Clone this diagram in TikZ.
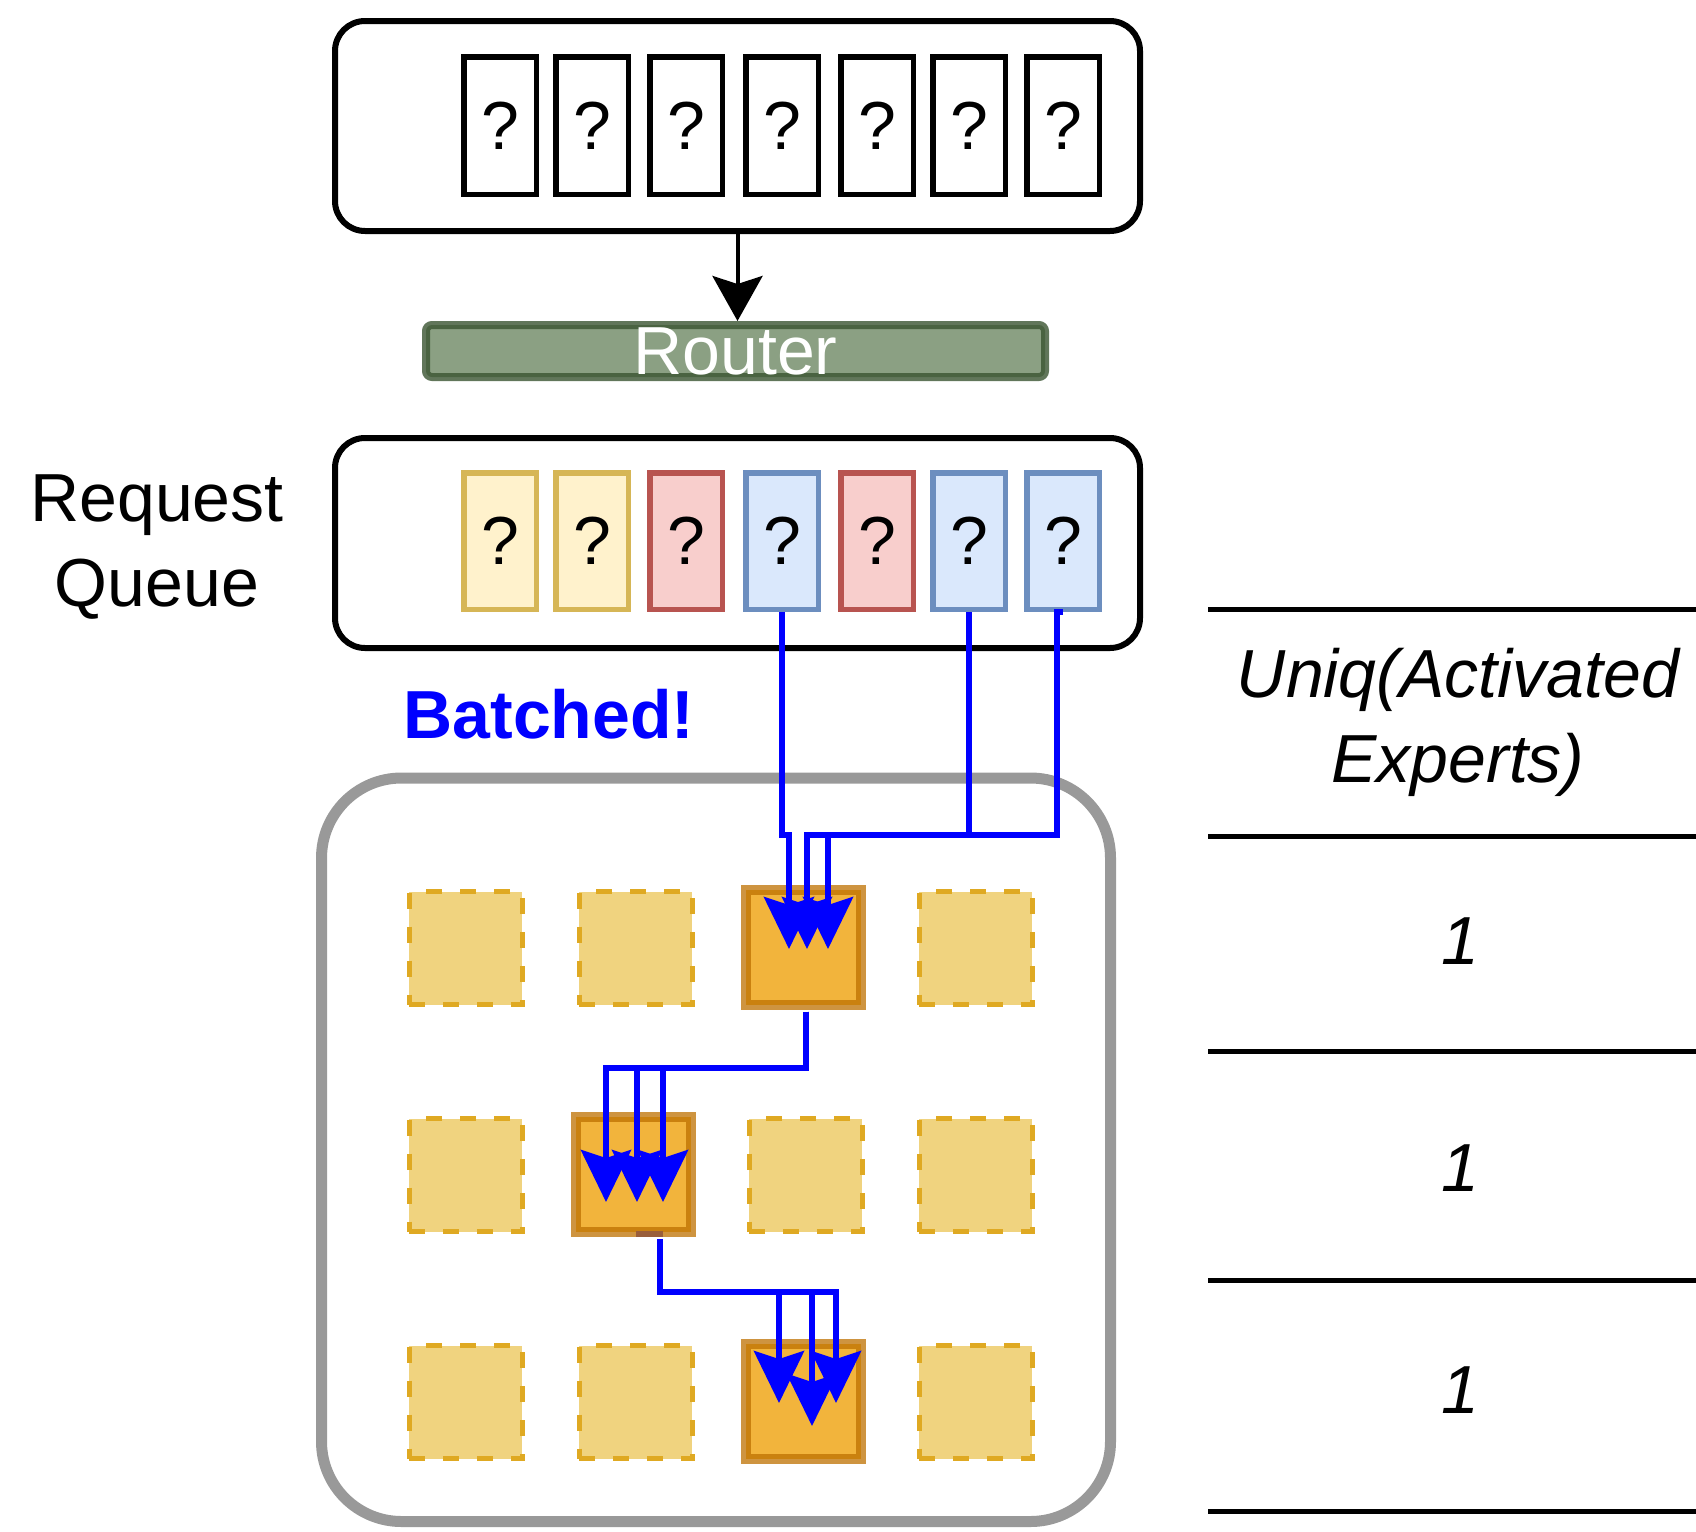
\documentclass[tikz,border=0pt]{standalone}
\usepackage{fontspec}
\setmainfont{Liberation Sans}
\usetikzlibrary{arrows.meta}

\definecolor{yelF}{HTML}{FFF2CC}
\definecolor{yelD}{HTML}{D6B656}
\definecolor{redF}{HTML}{F8CECC}
\definecolor{redD}{HTML}{B85450}
\definecolor{bluF}{HTML}{DAE8FC}
\definecolor{bluD}{HTML}{6C8EBF}
\definecolor{routerF}{RGB}{139,160,131}
\definecolor{routerD}{HTML}{3A5431}
\definecolor{idleF}{HTML}{F0D37F}
\definecolor{idleD}{HTML}{DFA922}
\definecolor{busyF}{HTML}{F2B43C}
\definecolor{busyD}{HTML}{BD7000}
\definecolor{wire}{HTML}{0000FF}
\definecolor{frameD}{HTML}{999999}
\definecolor{seamD}{RGB}{153,94,58}

\begin{document}
\begin{tikzpicture}[x=1pt,y=-1pt,
  big/.style={font=\fontsize{68}{85}\selectfont},
  holder/.style={draw=black, line width=6pt, rounded corners=30pt,
    minimum width=805pt, minimum height=210pt, inner sep=0pt},
  token/.style={draw=black, fill=white, line width=5.5pt, minimum width=72.5pt,
    minimum height=137.5pt, inner sep=0pt, big},
  qtoken/.style={token, minimum height=136.5pt},
  idle/.style={draw=idleD, fill=idleF, line width=5pt, dash pattern=on 16pt off 18pt,
    minimum size=113pt, inner sep=0pt},
  busy/.style={draw=busyD, draw opacity=0.75, fill=busyF, line width=10pt,
    minimum size=115pt, inner sep=0pt},
  flow/.style={draw=wire, line width=6pt, -{Stealth[length=52pt,width=50pt,inset=8pt]}},
  rule/.style={line width=5pt},
  label/.style={inner sep=0pt, big, align=center}
]
\useasboundingbox (0,0) rectangle (1696,1531);

% incoming tokens
\node[holder] (topbox) at (737.5,126) {};
\foreach \i/\x in {1/500,2/592,3/686,4/782,5/877,6/969,7/1063}
  \node[token] (t\i) at (\x,125.5) {?};

% router
\node[draw=routerD, draw opacity=0.8, fill=routerF, line width=8pt, rounded corners=6pt,
  minimum width=619pt, minimum height=52pt, inner sep=0pt, big, text=white]
  (router) at (735.5,351) {Router};
\draw[line width=4pt, -{Stealth[length=45pt,width=50pt,inset=8pt]}]
  (topbox.south) -- (topbox.south |- router.north);

% request queue
\node[label] (rqlabel) at (157,547) {Request\\Queue};
\node[holder] (queue) at (737.5,543) {};
\node[qtoken, draw=yelD, fill=yelF] (q1) at (500,541) {?};
\node[qtoken, draw=yelD, fill=yelF] (q2) at (592,541) {?};
\node[qtoken, draw=redD, fill=redF] (q3) at (686,541) {?};
\node[qtoken, draw=bluD, fill=bluF] (q4) at (782,541) {?};
\node[qtoken, draw=redD, fill=redF] (q5) at (877,541) {?};
\node[qtoken, draw=bluD, fill=bluF] (q6) at (969,541) {?};
\node[qtoken, draw=bluD, fill=bluF] (q7) at (1063,541) {?};

\node[label, font=\fontsize{68}{85}\selectfont\bfseries, text=wire] (batched) at (549,714) {Batched!};

% expert grid
\node[draw=frameD, line width=11pt, rounded corners=80pt, minimum width=789pt,
  minimum height=743.5pt, inner sep=0pt] (grid) at (716,1149.75) {};

\node[idle] (e11) at (465.5,948) {};
\node[idle] (e12) at (635.5,948) {};
\node[busy] (e13) at (803.5,947) {};
\node[idle] (e14) at (975.5,948) {};

\node[idle] (e21) at (465.5,1175) {};
\node[busy] (e22) at (633.5,1174.5) {};
\node[idle] (e23) at (805.5,1175) {};
\node[idle] (e24) at (975.5,1175) {};

\node[idle] (e31) at (465.5,1402) {};
\node[idle] (e32) at (635.5,1402) {};
\node[busy] (e33) at (803.5,1401) {};
\node[idle] (e34) at (975.5,1402) {};

\fill[seamD] (636,1231) rectangle (663,1237);

% layer 1: the batched tokens all reach the same expert
\draw[flow] (q4.south) -- (q4.south |- 0,835) -| ([shift={(-14.5,2)}]e13.center);
\draw[flow] (q6.south) -- (q6.south |- 0,835) -| ([shift={(3.5,2)}]e13.center);
\draw[flow] (q7.south) -- ++(-6,0) -- ++(0,223) -| ([shift={(24.5,2)}]e13.center);

% layer 2
\draw[flow] ([shift={(2.5,2)}]e13.south) -- ++(0,56) -| ([shift={(-27.5,27.5)}]e22.center);
\draw[flow] ([shift={(2.5,2)}]e13.south) -- ++(0,56) -| ([shift={(3.5,27.5)}]e22.center);
\draw[flow] ([shift={(2.5,2)}]e13.south) -- ++(0,56) -| ([shift={(29.5,27.5)}]e22.center);

% layer 3
\draw[flow] ([shift={(26.5,2)}]e22.south) -- ++(0,53) -| ([shift={(-24.5,2)}]e33.center);
\draw[flow] ([shift={(26.5,2)}]e22.south) -- ++(0,53) -| ([shift={(8.5,25)}]e33.center);
\draw[flow] ([shift={(26.5,2)}]e22.south) -- ++(0,53) -| ([shift={(32.5,2)}]e33.center);

% table of unique activated experts
\draw[rule] (1208,609) -- (1696,609);
\draw[rule] (1208,836) -- (1696,836);
\draw[rule] (1208,1051) -- (1696,1051);
\draw[rule] (1208,1280) -- (1696,1280);
\draw[rule] (1208,1511) -- (1696,1511);
\node[label, font=\fontsize{68}{85}\selectfont\itshape] (hdr) at (1458,722) {Uniq(Activated\\Experts)};
\node[label, font=\fontsize{68}{85}\selectfont\itshape] (n1) at (1460,941) {1};
\node[label, font=\fontsize{68}{85}\selectfont\itshape] (n2) at (1460,1168) {1};
\node[label, font=\fontsize{68}{85}\selectfont\itshape] (n3) at (1460,1390) {1};
\end{tikzpicture}
\end{document}
